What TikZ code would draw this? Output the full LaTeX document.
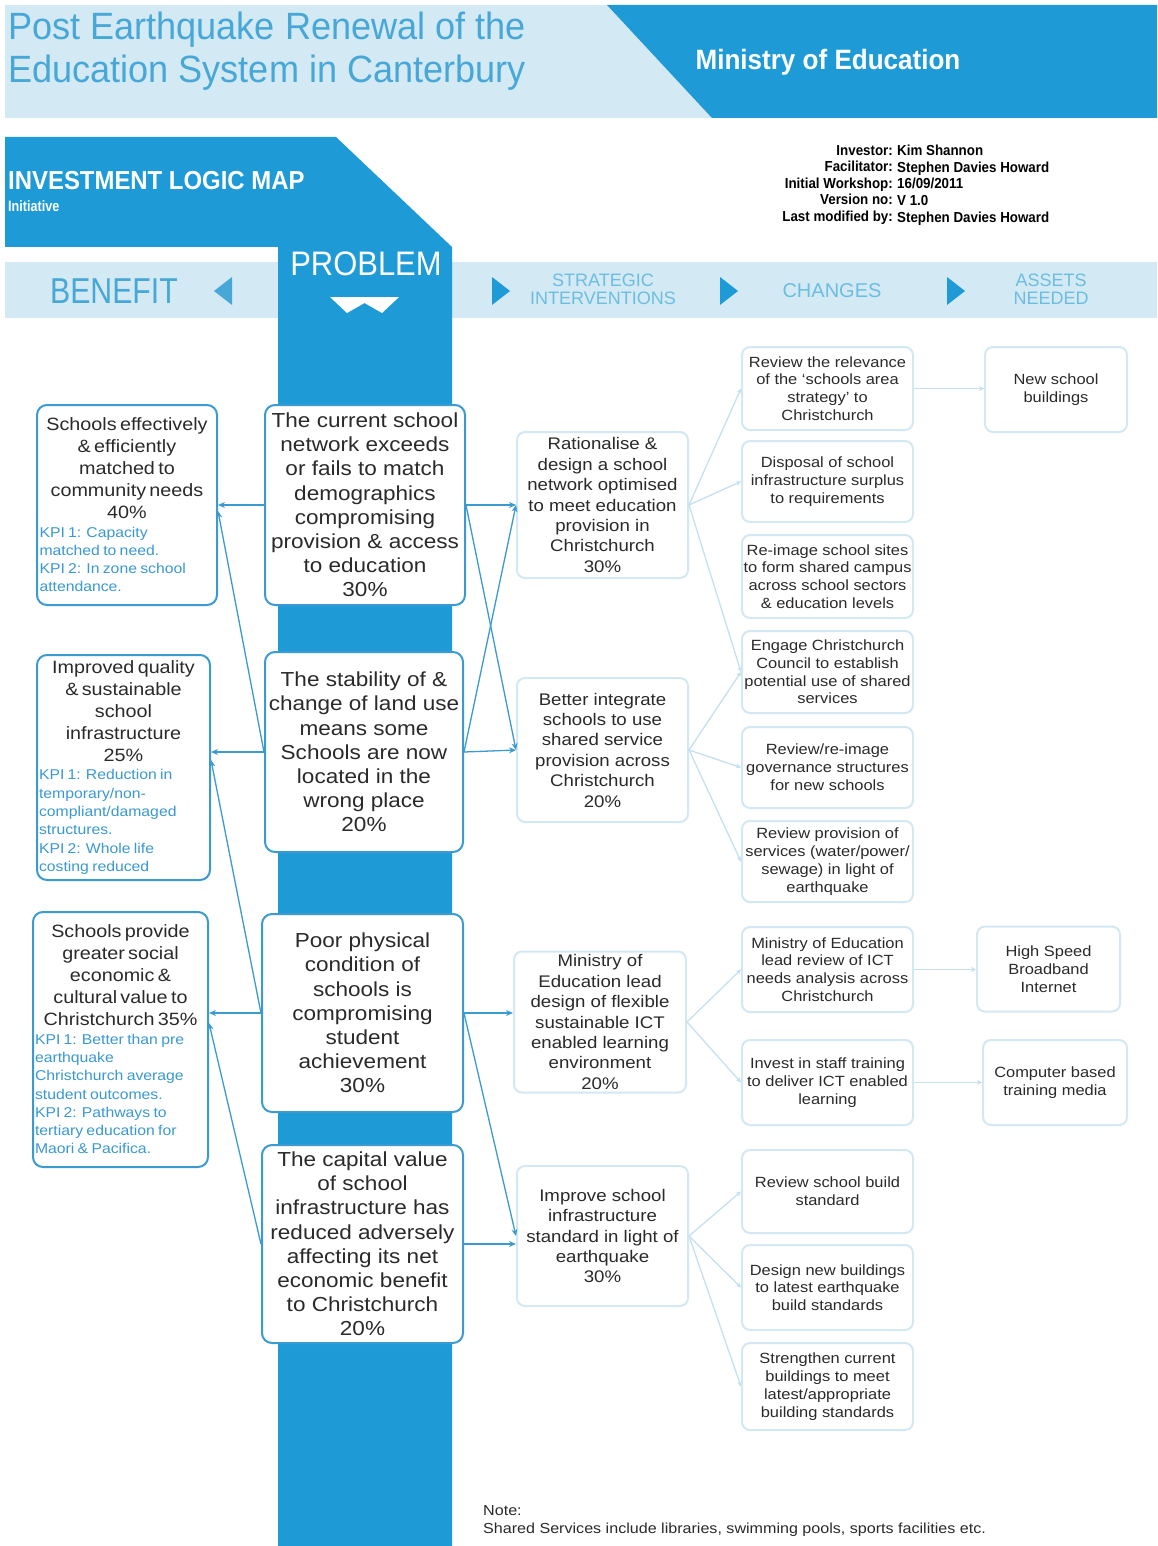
\documentclass[tikz,border=0pt]{standalone}
\usepackage{fontspec}
\setmainfont{Liberation Sans}
\newfontfamily\nf[FakeStretch=0.84]{Liberation Sans}
\newfontfamily\mf[FakeStretch=0.92]{Liberation Sans}
\newfontfamily\tf[FakeStretch=0.95]{Liberation Sans}
\newfontfamily\wf[FakeStretch=1.11,Ligatures=TeX]{Liberation Sans}
\usetikzlibrary{arrows.meta}

\definecolor{dblue}{HTML}{1E9BD7}
\definecolor{lband}{HTML}{D3E9F4}
\definecolor{tblue}{HTML}{47A7D7}
\definecolor{sblue}{HTML}{6DBDE2}
\definecolor{bord}{HTML}{3B9AD0}
\definecolor{pale}{HTML}{D4E8F3}
\definecolor{connl}{HTML}{C6E1EE}
\definecolor{kpi}{HTML}{3A98D2}
\definecolor{txt}{HTML}{2A2A2A}

\newcommand\setfs[2]{\fontsize{#1}{#2}\selectfont}
\newcommand\bentext[2]{{\centering\color{txt}\wf\setfs{17.8}{22}#1\par}{\raggedright\color{kpi}\wf\setfs{14.2}{18.3}#2\par}}

\tikzset{
  probbox/.style={draw=bord, line width=2pt, rounded corners=10pt, fill=white,
    align=center, inner sep=0pt, text=txt, font=\wf\setfs{20.3}{24.2}},
  benbox/.style={draw=bord, line width=2pt, rounded corners=10pt, fill=white,
    inner sep=0pt, align=left},
  intbox/.style={draw=pale, line width=2pt, rounded corners=8pt, fill=white,
    align=center, inner sep=0pt, text=txt, minimum width=171pt, font=\wf\setfs{16.8}{20.4}},
  chgbox/.style={draw=pale, line width=2pt, rounded corners=8pt, fill=white,
    align=center, inner sep=0pt, text=txt, minimum width=171pt, font=\wf\setfs{14.8}{17.8}},
  assetbox/.style={chgbox, minimum width=143pt, minimum height=85pt},
  strong/.style={draw=bord, line width=1.3pt, -{Stealth[length=7pt,width=6pt]}},
  light/.style={draw=connl, line width=1.3pt, -{Stealth[length=5pt,width=5pt]}},
  bandtext/.style={text=sblue, align=center, font=\setfs{18}{18}},
  metatext/.style={inner sep=0pt, font=\mf\bfseries\setfs{14.5}{16.6}},
}

\begin{document}
\begin{tikzpicture}[x=1pt,y=-1pt]
\useasboundingbox[fill=white] (0,0) rectangle (1157,1546);

% title band
\fill[lband] (5,5) rectangle (1157,118);
\fill[dblue] (607,5) -- (1157,5) -- (1157,118) -- (712,118) -- cycle;
\node[anchor=north west, text=tblue, align=left, font=\tf\setfs{38}{43}, inner sep=0pt]
  (title) at (8,12) {Post Earthquake Renewal of the\\Education System in Canterbury};
\node[text=white, font=\bfseries\setfs{28}{28}] (ministry) at (828,62)
  {\addfontfeature{FakeStretch=0.93}Ministry of Education};

% column header strip
\fill[lband] (5,262) rectangle (1157,318);

% investment logic map banner and problem column
\fill[dblue] (5,137) -- (336,137) -- (452,247) -- (452,1546) -- (278,1546) -- (278,247) -- (5,247) -- cycle;
\node[anchor=west, text=white, font=\bfseries\setfs{26}{26}, inner sep=0pt] (ilm) at (8,181)
  {\addfontfeature{FakeStretch=0.92}INVESTMENT LOGIC MAP};
\node[anchor=west, text=white, font=\nf\bfseries\setfs{15}{15}, inner sep=0pt] (init) at (8,206) {Initiative};

% workshop details
\node[metatext, anchor=north east, align=right] (metal) at (893,145)
  {Investor:\\Facilitator:\\Initial Workshop:\\Version no:\\Last modified by:};
\node[metatext, anchor=north west, align=left] (metav) at (897,145)
  {Kim Shannon\\Stephen Davies Howard\\16/09/2011\\V 1.0\\Stephen Davies Howard};

% column headings
\node[text=tblue, font=\nf\setfs{36}{36}] (hben) at (114,291) {BENEFIT};
\fill[tblue] (232,277) -- (232,305) -- (214,291) -- cycle;
\node[text=white, font=\setfs{34}{34}] (hprob) at (366,264) {\addfontfeature{FakeStretch=0.91}PROBLEM};
\fill[white] (330,297) -- (399,297) -- (382,313) -- (364.5,303) -- (347,313) -- cycle;
\fill[dblue] (492,277) -- (492,305) -- (510,291) -- cycle;
\node[bandtext] (hint) at (603,289) {STRATEGIC\\INTERVENTIONS};
\fill[dblue] (720,277) -- (720,305) -- (738,291) -- cycle;
\node[bandtext, font=\setfs{20}{20}] (hchg) at (832,291) {CHANGES};
\fill[dblue] (947,277) -- (947,305) -- (965,291) -- cycle;
\node[bandtext] (hass) at (1051,289) {ASSETS\\NEEDED};

% problems
\node[probbox, minimum width=200pt, minimum height=200pt] (p1) at (365,505)
  {The current school\\network exceeds\\or fails to match\\demographics\\compromising\\provision \& access\\to education\\30\%};
\node[probbox, minimum width=198pt, minimum height=200pt] (p2) at (364,752)
  {The stability of \&\\change of land use\\means some\\Schools are now\\located in the\\wrong place\\20\%};
\node[probbox, minimum width=201pt, minimum height=198pt] (p3) at (362.5,1013)
  {Poor physical\\condition of\\schools is\\compromising\\student\\achievement\\30\%};
\node[probbox, minimum width=201pt, minimum height=198pt] (p4) at (362.5,1244)
  {The capital value\\of school\\infrastructure has\\reduced adversely\\affecting its net\\economic benefit\\to Christchurch\\20\%};

% benefits
\node[benbox, minimum width=180pt, minimum height=200pt, text width=175pt] (b1) at (127,505)
  {\bentext{Schools effectively\\\& efficiently\\matched to\\community needs\\40\%}{KPI 1: Capacity\\matched to need.\\KPI 2: In zone school\\attendance.}};
\node[benbox, minimum width=173pt, minimum height=225pt, text width=169pt] (b2) at (123.5,767.5)
  {\bentext{Improved quality\\\& sustainable\\school\\infrastructure\\25\%}{KPI 1: Reduction in\\temporary/non-\\compliant/damaged\\structures.\\KPI 2: Whole life\\costing reduced}};
\node[benbox, minimum width=175pt, minimum height=255pt, text width=171pt] (b3) at (120.5,1039.5)
  {\bentext{Schools provide\\greater social\\economic \&\\cultural value to\\Christchurch 35\%}{KPI 1: Better than pre\\earthquake\\Christchurch average\\student outcomes.\\KPI 2: Pathways to\\tertiary education for\\Maori \& Pacifica.}};

% strategic interventions
\node[intbox, minimum height=146pt] (i1) at (602.5,505)
  {Rationalise \&\\design a school\\network optimised\\to meet education\\provision in\\Christchurch\\30\%};
\node[intbox, minimum height=144pt] (i2) at (602.5,750)
  {Better integrate\\schools to use\\shared service\\provision across\\Christchurch\\20\%};
\node[intbox, minimum height=141pt, minimum width=172pt] (i3) at (600,1022)
  {Ministry of\\Education lead\\design of flexible\\sustainable ICT\\enabled learning\\environment\\20\%};
\node[intbox, minimum height=140pt] (i4) at (602.5,1236)
  {Improve school\\infrastructure\\standard in light of\\earthquake\\30\%};

% changes
\node[chgbox, minimum height=83pt] (c1) at (827.5,388.5)
  {Review the relevance\\of the ‘schools area\\strategy’ to\\Christchurch};
\node[chgbox, minimum height=81pt] (c2) at (827.5,481.5)
  {Disposal of school\\infrastructure surplus\\to requirements};
\node[chgbox, minimum height=83pt] (c3) at (827.5,576.5)
  {Re-image school sites\\to form shared campus\\across school sectors\\\& education levels};
\node[chgbox, minimum height=82pt] (c4) at (827.5,672)
  {Engage Christchurch\\Council to establish\\potential use of shared\\services};
\node[chgbox, minimum height=81pt] (c5) at (827.5,767.5)
  {Review/re-image\\governance structures\\for new schools};
\node[chgbox, minimum height=81pt] (c6) at (827.5,861.5)
  {Review provision of\\services (water/power/\\sewage) in light of\\earthquake};
\node[chgbox, minimum height=85pt] (c7) at (827.5,969.5)
  {Ministry of Education\\lead review of ICT\\needs analysis across\\Christchurch};
\node[chgbox, minimum height=85pt] (c8) at (827.5,1082.5)
  {Invest in staff training\\to deliver ICT enabled\\learning};
\node[chgbox, minimum height=83pt] (c9) at (827.5,1191.5)
  {Review school build\\standard};
\node[chgbox, minimum height=85pt] (c10) at (827.5,1287.5)
  {Design new buildings\\to latest earthquake\\build standards};
\node[chgbox, minimum height=87pt] (c11) at (827.5,1386.5)
  {Strengthen current\\buildings to meet\\latest/appropriate\\building standards};

% assets needed
\node[assetbox, minimum width=142pt] (a1) at (1056,389.5) {New school\\buildings};
\node[assetbox] (a2) at (1048.5,969) {High Speed\\Broadband\\Internet};
\node[assetbox, minimum width=144pt] (a3) at (1055,1082.5) {Computer based\\training media};

% problem -> benefit
\draw[strong] (p1.west) -- (p1.west -| b1.east);
\draw[strong] (p2.west) -- ([yshift=-6pt]p1.west -| b1.east);
\draw[strong] (p2.west) -- (p2.west -| b2.east);
\draw[strong] (p3.west) -- ([yshift=-8pt]p2.west -| b2.east);
\draw[strong] (p3.west) -- (p3.west -| b3.east);
\draw[strong] (p4.west) -- ([yshift=-10pt]p3.west -| b3.east);

% problem -> intervention
\draw[strong] (p1.east) -- (i1.west);
\draw[strong] (p1.east) -- (i2.west);
\draw[strong] (p2.east) -- (i1.west);
\draw[strong] (p2.east) -- (i2.west);
\draw[strong] (p3.east) -- (p3.east -| i3.west);
\draw[strong] (p3.east) -- (i4.west);
\draw[strong] (p4.east) -- (p4.east -| i4.west);

% intervention -> change
\foreach \c in {c1,c2,c4} \draw[light] (i1.east) -- (\c.west);
\foreach \c in {c4,c5,c6} \draw[light] (i2.east) -- (\c.west);
\foreach \c in {c7,c8} \draw[light] (i3.east) -- (\c.west);
\foreach \c in {c9,c10,c11} \draw[light] (i4.east) -- (\c.west);

% change -> asset
\draw[light] (c1.east) -- (c1.east -| a1.west);
\draw[light] (c7.east) -- (c7.east -| a2.west);
\draw[light] (c8.east) -- (c8.east -| a3.west);

% note
\node[anchor=north west, align=left, inner sep=0pt, text=txt, font=\wf\setfs{14.5}{18}] (note) at (483,1505)
  {Note:\\Shared Services include libraries, swimming pools, sports facilities etc.};
\end{tikzpicture}
\end{document}
